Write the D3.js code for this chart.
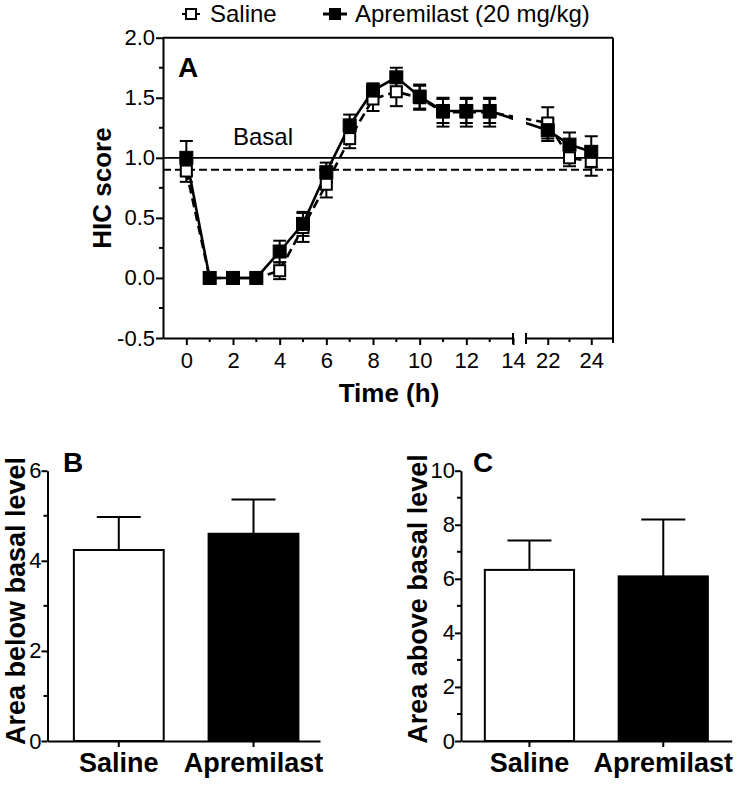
<!DOCTYPE html>
<html><head><meta charset="utf-8">
<script src="https://cdn.jsdelivr.net/npm/d3@7"></script>
<style>
body{margin:0;background:#fff}
svg text{font-family:"Liberation Sans",Arial,Helvetica,sans-serif;fill:#000}
</style>
</head><body>
<svg id="c" width="742" height="786"></svg>
<script>
// ---------- data ----------
const hours = [0,1,2,3,4,5,6,7,8,9,10,11,12,13,22,23,24];
const salineMean = [0.89,0,0,0,0.06,0.42,0.78,1.16,1.49,1.55,1.50,1.38,1.38,1.38,1.29,1.00,0.97];
const salineSem  = [0.09,0,0,0,0.07,0.12,0.11,0.08,0.10,0.12,0.10,0.12,0.12,0.12,0.13,0.07,0.12];
const apremilastMean = [1.00,0,0,0,0.22,0.45,0.88,1.27,1.56,1.67,1.51,1.39,1.39,1.39,1.23,1.11,1.05];
const apremilastSem  = [0.14,0,0,0,0.09,0.10,0.08,0.09,0.06,0.08,0.10,0.10,0.10,0.10,0.09,0.10,0.13];
const basalSaline = 0.9;
const basalApremilast = 1.0;
const yTicksA = [-0.5,0,0.5,1.0,1.5,2.0];
const yMinorA = [-0.25,0.25,0.75,1.25,1.75];
const xTicksLeft = [0,2,4,6,8,10,12,14];
const xMinorLeft = [1,3,5,7,9,11,13];
const xTicksRight = [22,24];
const xMinorRight = [23];
const groups = ["Saline","Apremilast"];
const areaBelow = [4.24,4.60];
const areaBelowSem = [0.73,0.76];
const areaAbove = [6.33,6.09];
const areaAboveSem = [1.09,2.10];
const legendLabels = ["Saline","Apremilast (20 mg/kg)"];

const svg = d3.select("#c");
const AX = 2;
const intFmt = d3.format("d");

// ---------- panel A ----------
const yA = d3.scaleLinear().domain([-0.5,2]).range([338,37.7]);
const xL = d3.scaleLinear().domain([-1,14]).range([163,513]);
const xR = d3.scaleLinear().domain([21,25]).range([526,613]);
const xA = t => t <= 14 ? xL(t) : xR(t);

const gA = svg.append("g");

// clip for axis break
const defs = svg.append("defs");
const cp = defs.append("clipPath").attr("id","brk");
cp.append("rect").attr("x",100).attr("y",0).attr("width",513-100).attr("height",400);
cp.append("rect").attr("x",526).attr("y",0).attr("width",150).attr("height",400);

// frame top/right
gA.append("line").attr("x1",163).attr("x2",613).attr("y1",yA(2)).attr("y2",yA(2)).attr("stroke","#000").attr("stroke-width",AX);
gA.append("line").attr("x1",613).attr("x2",613).attr("y1",yA(2)).attr("y2",343).attr("stroke","#000").attr("stroke-width",AX);

// y axis
const yAxisA = gA.append("g").attr("transform","translate(163,0)")
  .call(d3.axisLeft(yA).tickValues(yTicksA).tickSize(7).tickSizeOuter(0).tickPadding(1).tickFormat(d=>d.toFixed(1)));
yAxisA.selectAll("path,line").attr("stroke","#000").attr("stroke-width",AX);
yAxisA.selectAll("text").attr("font-size",22);
yAxisA.selectAll(".minor").data(yMinorA).enter().append("line")
  .attr("x1",-4).attr("x2",0).attr("y1",d=>yA(d)).attr("y2",d=>yA(d)).attr("stroke","#000").attr("stroke-width",AX);

// x axes (broken)
function bottomAxis(scale, ticks, minor){
  const g = gA.append("g").attr("transform","translate(0,338)")
    .call(d3.axisBottom(scale).tickValues(ticks).tickSize(7).tickSizeOuter(0).tickPadding(7).tickFormat(intFmt));
  g.selectAll("path,line").attr("stroke","#000").attr("stroke-width",AX);
  g.selectAll("text").attr("font-size",22);
  g.selectAll(".mn").data(minor).enter().append("line")
    .attr("x1",d=>scale(d)).attr("x2",d=>scale(d)).attr("y1",0).attr("y2",4).attr("stroke","#000").attr("stroke-width",AX);
  return g;
}
bottomAxis(xL, xTicksLeft, xMinorLeft);
bottomAxis(xR, xTicksRight, xMinorRight);
[513,526].forEach(x=>{
  gA.append("line").attr("x1",x).attr("x2",x).attr("y1",333).attr("y2",344).attr("stroke","#000").attr("stroke-width",AX);
});

// basal lines
gA.append("line").attr("x1",163).attr("x2",613).attr("y1",yA(basalApremilast)).attr("y2",yA(basalApremilast))
  .attr("stroke","#000").attr("stroke-width",1.8);
gA.append("line").attr("x1",163).attr("x2",613).attr("y1",yA(basalSaline)).attr("y2",yA(basalSaline))
  .attr("stroke","#000").attr("stroke-width",2).attr("stroke-dasharray","8,4");
gA.append("text").attr("x",233).attr("y",145).attr("font-size",24).text("Basal");

// series
const series = [
  {mean: salineMean, sem: salineSem, dash: "9,5", fill: "#fff", size: 11},
  {mean: apremilastMean, sem: apremilastSem, dash: null, fill: "#000", size: 13}
];
const gData = gA.append("g").attr("clip-path","url(#brk)");
const line = d3.line().x(d=>xA(d.t)).y(d=>yA(d.m));
series.forEach(s=>{
  const pts = hours.map((t,i)=>({t, m:s.mean[i], e:s.sem[i]}));
  s.pts = pts;
  gData.append("path").datum(pts).attr("d",line).attr("fill","none").attr("stroke","#000")
    .attr("stroke-width",2.6).attr("stroke-dasharray",s.dash);
});
series.forEach(s=>{
  const eb = s.pts.filter(d=>d.e>0);
  const g = gData.append("g").attr("stroke","#000").attr("stroke-width",2);
  g.selectAll(".v").data(eb).enter().append("line")
    .attr("x1",d=>xA(d.t)).attr("x2",d=>xA(d.t)).attr("y1",d=>yA(d.m-d.e)).attr("y2",d=>yA(d.m+d.e));
  [1,-1].forEach(sg=>{
    g.selectAll(".c"+sg).data(eb).enter().append("line")
      .attr("x1",d=>xA(d.t)-6.5).attr("x2",d=>xA(d.t)+6.5)
      .attr("y1",d=>yA(d.m+sg*d.e)).attr("y2",d=>yA(d.m+sg*d.e));
  });
});
series.forEach(s=>{
  gData.selectAll(null).data(s.pts).enter().append("rect")
    .attr("x",d=>xA(d.t)-s.size/2).attr("y",d=>yA(d.m)-s.size/2)
    .attr("width",s.size).attr("height",s.size)
    .attr("fill",s.fill).attr("stroke","#000").attr("stroke-width",s.fill==="#fff"?2:1);
});

// labels A
gA.append("text").attr("x",178).attr("y",77).attr("font-size",28).attr("font-weight","bold").text("A");
gA.append("text").attr("transform","translate(111,188) rotate(-90)").attr("text-anchor","middle")
  .attr("font-size",26).attr("font-weight","bold").text("HIC score");
gA.append("text").attr("x",389).attr("y",402).attr("text-anchor","middle")
  .attr("font-size",26).attr("font-weight","bold").text("Time (h)");

// legend
const lg = svg.append("g");
lg.append("line").attr("x1",182).attr("x2",200).attr("y1",14).attr("y2",14).attr("stroke","#000").attr("stroke-width",2);
lg.append("rect").attr("x",186).attr("y",9).attr("width",10).attr("height",10).attr("fill","#fff").attr("stroke","#000").attr("stroke-width",2);
lg.append("text").attr("x",210).attr("y",22).attr("font-size",24).text(legendLabels[0]);
lg.append("line").attr("x1",323).attr("x2",347).attr("y1",14).attr("y2",14).attr("stroke","#000").attr("stroke-width",3);
lg.append("rect").attr("x",329).attr("y",8).attr("width",12).attr("height",12).attr("fill","#000");
lg.append("text").attr("x",355).attr("y",22).attr("font-size",24).text(legendLabels[1]);

// ---------- panels B & C ----------
function barPanel(o){
  const g = svg.append("g");
  const y = d3.scaleLinear().domain([0,o.yMax]).range([741,470.7]);
  const x = d3.scaleBand().domain(groups).range([o.x0,o.x1]).paddingInner(1/3).paddingOuter(0.178).align(o.align);
  const fills = ["#fff","#000"];
  g.selectAll(".bar").data(o.values).enter().append("rect")
    .attr("x",(d,i)=>x(groups[i])).attr("y",d=>y(d))
    .attr("width",x.bandwidth()).attr("height",d=>y(0)-y(d))
    .attr("fill",(d,i)=>fills[i]).attr("stroke","#000").attr("stroke-width",2);
  o.values.forEach((v,i)=>{
    const cx = x(groups[i]) + x.bandwidth()/2;
    g.append("line").attr("x1",cx).attr("x2",cx).attr("y1",y(v)).attr("y2",y(v+o.sems[i])).attr("stroke","#000").attr("stroke-width",2);
    g.append("line").attr("x1",cx-22).attr("x2",cx+22).attr("y1",y(v+o.sems[i])).attr("y2",y(v+o.sems[i])).attr("stroke","#000").attr("stroke-width",2);
  });
  const ya = g.append("g").attr("transform",`translate(${o.x0},0)`)
    .call(d3.axisLeft(y).tickValues(o.ticks).tickSize(6).tickSizeOuter(0).tickPadding(0).tickFormat(intFmt));
  ya.selectAll("path,line").attr("stroke","#000").attr("stroke-width",AX);
  ya.selectAll("text").attr("font-size",22);
  ya.selectAll(".mn").data(o.minor).enter().append("line")
    .attr("x1",-4).attr("x2",0).attr("y1",d=>y(d)).attr("y2",d=>y(d)).attr("stroke","#000").attr("stroke-width",AX);
  const xa = g.append("g").attr("transform","translate(0,741)")
    .call(d3.axisBottom(x).tickSize(6).tickSizeOuter(0).tickFormat(""));
  xa.selectAll("path,line").attr("stroke","#000").attr("stroke-width",AX);
  groups.forEach(gr=>{
    g.append("text").attr("x",x(gr)+x.bandwidth()/2).attr("y",772).attr("text-anchor","middle")
      .attr("font-size",27).attr("font-weight","bold").text(gr);
  });
  g.append("text").attr("x",o.letterX).attr("y",472).attr("font-size",28).attr("font-weight","bold").text(o.letter);
  g.append("text").attr("transform",`translate(${o.labX},${o.labY}) rotate(-90)`).attr("text-anchor","middle")
    .attr("font-size",27).attr("font-weight","bold").text(o.label);
}
barPanel({x0:47.5,x1:320,align:0.55,yMax:6,ticks:[0,2,4,6],minor:[1,3,5],values:areaBelow,sems:areaBelowSem,
  letter:"B",letterX:63,label:"Area below basal level",labX:25,labY:601});
barPanel({x0:461,x1:731.7,align:0.5,yMax:10,ticks:[0,2,4,6,8,10],minor:[1,3,5,7,9],values:areaAbove,sems:areaAboveSem,
  letter:"C",letterX:473,label:"Area above basal level",labX:427,labY:599});
</script>
</body></html>
